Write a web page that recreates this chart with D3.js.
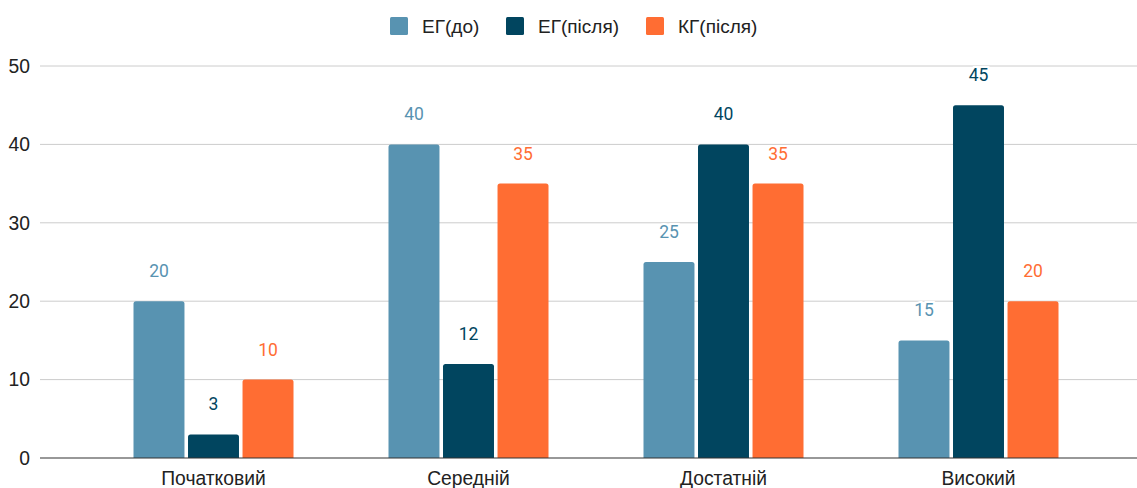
<!DOCTYPE html>
<html>
<head>
<meta charset="utf-8">
<script src="https://cdn.jsdelivr.net/npm/d3@7"></script>
<style>
  html, body { margin: 0; padding: 0; background: #fff; }
  svg { display: block; font-family: "Liberation Sans", Arial, sans-serif; }
</style>
</head>
<body>
<svg id="chart" width="1137" height="488"></svg>
<script>
// Levels (categories) and group results, percent
const categories = ["Початковий", "Середній", "Достатній", "Високий"];
const seriesNames = ["ЕГ(до)", "ЕГ(після)", "КГ(після)"];
const egBefore = [20, 40, 25, 15];
const egAfter = [3, 12, 40, 45];
const kgAfter = [10, 35, 35, 20];
const yTicks = [0, 10, 20, 30, 40, 50];

const colors = ["#5893b1", "#01455f", "#ff6d33"];
const seriesValues = [egBefore, egAfter, kgAfter];

const svg = d3.select("#chart");
const gridLeft = 40, gridRight = 1137;
const labelFont = 19.3;
const legendFont = 19;
const groupWidth = 160;

const y = d3.scaleLinear().domain([0, 50]).range([458, 66]);
const x0 = d3.scaleBand().domain(categories).range([86, 1106]).paddingInner(0).paddingOuter(0);
const x1 = d3.scaleBand().domain(seriesNames).range([0, groupWidth]).paddingInner(0.065).paddingOuter(0);
const groupOffset = (x0.bandwidth() - groupWidth) / 2;

// Gridlines
svg.append("g")
  .selectAll("line")
  .data(yTicks.filter(d => d !== 0))
  .join("line")
  .attr("x1", gridLeft).attr("x2", gridRight)
  .attr("y1", d => y(d)).attr("y2", d => y(d))
  .attr("stroke", "#cccccc").attr("stroke-width", 1);

// Y axis labels
svg.append("g")
  .selectAll("text")
  .data(yTicks)
  .join("text")
  .attr("x", 30).attr("y", d => y(d))
  .attr("dy", "0.35em")
  .attr("text-anchor", "end")
  .attr("font-size", labelFont)
  .attr("fill", "#222")
  .text(d => d);

// Bars with rounded top corners
function barPath(x, w, yTop, yBase, r) {
  r = Math.min(r, w / 2, (yBase - yTop));
  return `M${x},${yBase}V${yTop + r}Q${x},${yTop} ${x + r},${yTop}H${x + w - r}Q${x + w},${yTop} ${x + w},${yTop + r}V${yBase}Z`;
}

const flat = [];
categories.forEach((c, i) => {
  seriesNames.forEach((s, j) => {
    flat.push({ cat: c, series: s, value: seriesValues[j][i], color: colors[j] });
  });
});

svg.append("g")
  .selectAll("path")
  .data(flat)
  .join("path")
  .attr("d", d => {
    const bx = x0(d.cat) + groupOffset + x1(d.series);
    return barPath(bx, x1.bandwidth(), y(d.value), y(0), 2.5);
  })
  .attr("fill", d => d.color);

// Value labels
svg.append("g")
  .selectAll("text")
  .data(flat)
  .join("text")
  .attr("x", d => x0(d.cat) + groupOffset + x1(d.series) + x1.bandwidth() / 2)
  .attr("y", d => y(d.value) - 24)
  .attr("text-anchor", "middle")
  .attr("font-family", "Roboto, sans-serif")
  .attr("font-size", 17.5)
  .attr("fill", d => d.color)
  .attr("stroke", "#fff").attr("stroke-width", 4)
  .attr("paint-order", "stroke")
  .text(d => d.value);

// Baseline
svg.append("line")
  .attr("x1", gridLeft).attr("x2", gridRight)
  .attr("y1", y(0)).attr("y2", y(0))
  .attr("stroke", "#333").attr("stroke-width", 1.2);

// Category labels
svg.append("g")
  .selectAll("text")
  .data(categories)
  .join("text")
  .attr("x", d => x0(d) + x0.bandwidth() / 2)
  .attr("y", 485)
  .attr("text-anchor", "middle")
  .attr("font-size", labelFont)
  .attr("fill", "#222")
  .text(d => d);

// Legend
const legendX = [390, 506, 646];
const legend = svg.append("g");
seriesNames.forEach((s, j) => {
  legend.append("rect")
    .attr("x", legendX[j]).attr("y", 17)
    .attr("width", 18).attr("height", 18)
    .attr("rx", 1.5)
    .attr("fill", colors[j]);
  legend.append("text")
    .attr("x", legendX[j] + 32).attr("y", 33)
    .attr("font-size", legendFont)
    .attr("fill", "#222")
    .text(s);
});
</script>
</body>
</html>
